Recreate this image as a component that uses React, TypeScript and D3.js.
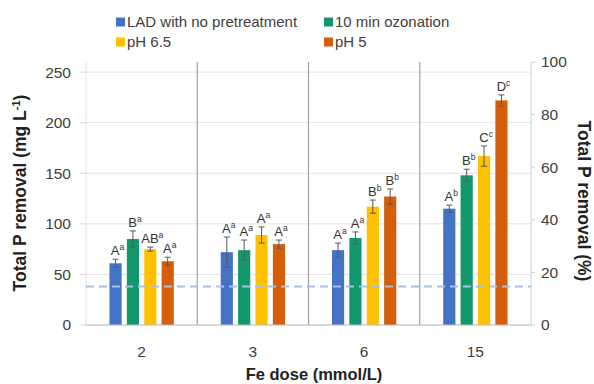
import React from "react";
import * as d3 from "d3";

// Fe dose categories and pretreatment series
const doses = ["2", "3", "6", "15"];
const seriesNames = ["LAD with no pretreatment", "10 min ozonation", "pH 6.5", "pH 5"];
const seriesColors = ["#4472C4", "#12986C", "#FFC000", "#D55E0A"];

// Total P removal (mg/L), one array per series, ordered by dose
const ladValues = [61, 72, 74, 115];
const ozoneValues = [85, 74, 86, 148];
const ph65Values = [75, 89, 117, 167];
const ph5Values = [63, 80, 127, 222];

// Standard deviations
const ladErr = [4, 15, 7, 3.5];
const ozoneErr = [8, 10, 6, 6];
const ph65Err = [2, 8, 6.5, 10];
const ph5Err = [4, 4, 7.5, 5.5];

// Significance letters: [main, superscript]
const ladLetters = [["A", "a"], ["A", "a"], ["A", "a"], ["A", "b"]];
const ozoneLetters = [["B", "a"], ["A", "a"], ["A", "a"], ["B", "b"]];
const ph65Letters = [["AB", "a"], ["A", "a"], ["B", "b"], ["C", "c"]];
const ph5Letters = [["A", "a"], ["A", "a"], ["B", "b"], ["D", "c"]];

// Reference level (mg/L) shown as dashed line
const baselineValue = 38;

const leftTicks = [0, 50, 100, 150, 200, 250];
const rightTicks = [0, 20, 40, 60, 80, 100];

const W = 594;
const H = 384;
const plot = { left: 86, right: 531, top: 62, bottom: 325 };
const FONT = "'Liberation Sans', Arial, sans-serif";

export default function App() {
  const values = [ladValues, ozoneValues, ph65Values, ph5Values];
  const errs = [ladErr, ozoneErr, ph65Err, ph5Err];
  const letters = [ladLetters, ozoneLetters, ph65Letters, ph5Letters];

  const x = d3.scaleBand<string>().domain(doses).range([plot.left, plot.right]);
  const xs = d3
    .scaleBand<number>()
    .domain(d3.range(seriesNames.length))
    .range([0, x.bandwidth()])
    .paddingInner(0.3)
    .paddingOuter(1.35);
  const y = d3.scaleLinear().domain([0, 260]).range([plot.bottom, plot.top]);
  const yr = d3.scaleLinear().domain([0, 100]).range([plot.bottom, plot.top]);

  const tickColor = "#404040";

  return (
    <svg width={W} height={H} style={{ display: "block", position: "absolute", left: 0, top: 0 }} fontFamily={FONT}>
      <rect width={W} height={H} fill="#fff" />

      {/* legend */}
      {seriesNames.map((name, i) => {
        const lx = i % 2 === 0 ? 116 : 324;
        const ly = i < 2 ? 22 : 42;
        return (
          <g key={name}>
            <rect x={lx} y={ly - 4.5} width={9} height={9} fill={seriesColors[i]} />
            <text x={lx + 11} y={ly} dy="0.35em" fontSize={15} fill="#404040">
              {name}
            </text>
          </g>
        );
      })}

      {/* horizontal gridlines */}
      {leftTicks.map((t) => (
        <line key={t} x1={plot.left} x2={plot.right} y1={y(t)} y2={y(t)} stroke="#E3E3E3" strokeWidth={1} />
      ))}

      {/* left axis line and ticks */}
      <line x1={plot.left} x2={plot.left} y1={plot.top} y2={plot.bottom} stroke="#E0E0E0" />
      {leftTicks.map((t) => (
        <g key={t}>
          <line x1={plot.left - 6} x2={plot.left} y1={y(t)} y2={y(t)} stroke="#D9D9D9" />
          <text x={plot.left - 15} y={y(t)} dy="0.35em" textAnchor="end" fontSize={15.5} fill={tickColor}>
            {t}
          </text>
        </g>
      ))}

      {/* category separators */}
      {doses.slice(1).map((d) => (
        <line key={d} x1={x(d)!} x2={x(d)!} y1={plot.top} y2={plot.bottom} stroke="#A0A0A0" strokeWidth={1.2} />
      ))}

      {/* right axis */}
      <line x1={plot.right} x2={plot.right} y1={plot.top} y2={plot.bottom} stroke="#D0D0D0" />
      {rightTicks.map((t) => (
        <g key={t}>
          <line x1={plot.right} x2={plot.right + 4} y1={yr(t)} y2={yr(t)} stroke="#D0D0D0" />
          <text x={plot.right + 10} y={yr(t)} dy="0.35em" fontSize={15.5} fill={tickColor}>
            {t}
          </text>
        </g>
      ))}

      {/* bars, error bars, letters */}
      {values.map((vals, si) =>
        doses.map((d, di) => {
          const bx = x(d)! + xs(si)!;
          const bw = xs.bandwidth();
          const cx = bx + bw / 2;
          const v = vals[di];
          const e = errs[si][di];
          const [main, sup] = letters[si][di];
          return (
            <g key={`${si}-${d}`}>
              <rect x={bx} y={y(v)} width={bw} height={y(0) - y(v)} fill={seriesColors[si]} />
              <line x1={cx} x2={cx} y1={y(v + e)} y2={y(v - e)} stroke="#595959" strokeWidth={1} />
              <line x1={cx - 3} x2={cx + 3} y1={y(v + e)} y2={y(v + e)} stroke="#595959" strokeWidth={1} />
              <line x1={cx - 3} x2={cx + 3} y1={y(v - e)} y2={y(v - e)} stroke="#595959" strokeWidth={1} />
              <text x={cx + 2} y={y(v + e) - 4} textAnchor="middle" fontSize={13} fill="#333">
                {main}
                <tspan fontSize={8.5} dy={-5}>
                  {sup}
                </tspan>
              </text>
            </g>
          );
        })
      )}

      {/* dashed reference line */}
      <line
        x1={plot.left}
        x2={plot.right}
        y1={y(baselineValue)}
        y2={y(baselineValue)}
        stroke="#A8C0E8"
        strokeWidth={2}
        strokeDasharray="8 5"
      />

      {/* bottom axis */}
      <line x1={plot.left} x2={plot.right} y1={plot.bottom} y2={plot.bottom} stroke="#BFBFBF" strokeWidth={1.2} />
      {doses.map((d) => (
        <text key={d} x={x(d)! + x.bandwidth() / 2} y={352} dy="0.35em" textAnchor="middle" fontSize={15.5} fill={tickColor}>
          {d}
        </text>
      ))}

      {/* axis titles */}
      <text x={314} y={376} textAnchor="middle" dominantBaseline="middle" fontSize={16.5} fontWeight="bold" fill="#222">
        Fe dose (mmol/L)
      </text>
      <text
        transform={`translate(20, 193) rotate(-90)`}
        textAnchor="middle"
        dy="0.35em"
        fontSize={17.5}
        fontWeight="bold"
        fill="#222"
      >
        Total P removal (mg L
        <tspan fontSize={11} dy={-6}>
          -1
        </tspan>
        <tspan dy={6}>)</tspan>
      </text>
      <text
        transform={`translate(584, 201) rotate(90)`}
        textAnchor="middle"
        dy="0.35em"
        fontSize={17.5}
        fontWeight="bold"
        fill="#222"
      >
        Total P removal (%)
      </text>
    </svg>
  );
}
